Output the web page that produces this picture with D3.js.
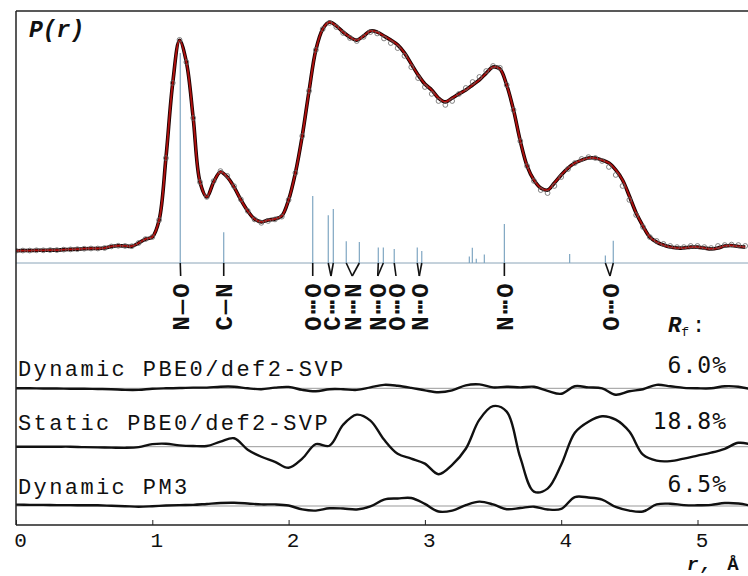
<!DOCTYPE html>
<html lang="en">
<head>
<meta charset="utf-8">
<title>P(r)</title>
<script src="https://d3js.org/d3.v7.min.js"></script>
<style>
body { margin:0; background:#fff; }
svg text { font-family: "Liberation Mono", "DejaVu Sans Mono", monospace; fill:#111; }
.frame { stroke:#222; stroke-width:1.5; fill:none; }
.zero { stroke:#999; stroke-width:1; }
.stickbase { stroke:#8aa4b8; stroke-width:1; }
.stick { stroke:#7fa6c2; stroke-width:1.2; }
.link { stroke:#111; stroke-width:1.6; fill:none; }
.resid { stroke:#111; stroke-width:2.4; fill:none; }
.pct { font-family:"DejaVu Sans Mono", monospace !important; }
</style>
</head>
<body>
<div id="chart"></div>
<script>
// sampling grid of the P(r) curve, step 0.05 A
var rGrid = d3.range(108).map(function(i){ return +(i*0.05).toFixed(2); });

// fitted P(r) (red line)
var pFit = [
0.1,0.2,0.2,0.3,0.3,0.4,0.4,0.6,0.7,0.8,
1.0,1.1,1.1,1.3,2.0,2.3,2.2,2.1,3.5,5.2,
6.1,13.5,40.6,73.4,92.0,82.5,58.1,30.1,23.6,30.1,
34.5,32.3,27.9,22.3,17.5,14.0,12.7,13.5,14.0,15.3,
22.3,34.1,50.2,69.9,87.8,96.9,100,98.3,95.6,93.4,
92.1,93.9,96.1,95.6,93.9,92.1,90.0,86.5,81.7,76.9,
72.9,70.3,66.8,65.1,66.8,68.6,70.3,72.5,74.7,77.7,
80.3,79.5,72.5,61.6,48.0,37.1,31.0,27.5,26.6,29.7,
33.2,36.2,38.4,39.7,40.6,40.6,39.7,38.4,35.4,31.0,
24.0,16.6,10.9,6.1,3.9,2.6,1.7,1.3,1.3,1.7,
1.7,1.3,0.9,1.3,2.2,2.4,2.0,1.7];

// experimental P(r) (open circles)
var pExp = [
0.1,0.2,0.2,0.3,0.3,0.4,0.4,0.6,0.7,0.8,
1.0,1.1,1.1,1.3,2.0,2.3,2.2,2.1,3.5,5.2,
6.1,13.5,40.6,73.4,92.2,82.5,58.1,30.1,23.6,30.5,
34.9,32.8,28.3,22.5,17.5,13.8,12.3,13.1,13.8,15.0,
22.3,34.1,50.2,69.9,87.8,96.9,99.6,97.8,95.2,93.0,
91.7,93.5,95.6,95.0,92.8,90.8,88.6,85.2,80.3,75.5,
71.6,68.6,65.5,63.8,65.5,68.6,71.2,73.8,76.0,78.6,
80.8,80.0,72.5,61.6,48.0,37.1,30.6,26.6,25.3,28.4,
32.3,35.8,38.4,40.2,41.0,40.6,39.3,36.7,33.2,28.4,
22.3,15.7,10.5,6.1,4.4,3.1,2.2,1.7,1.7,2.2,
2.2,1.7,1.3,2.2,2.6,2.8,2.6,2.2];

// interatomic distances (sticks) and their weights
var stickR = [1.205,1.524,2.177,2.291,2.328,2.423,2.519,2.658,2.695,2.775,2.944,2.977,3.326,3.348,3.377,3.436,3.583,4.062,4.324,4.382];
var stickW = [100,14.6,31.9,22.7,25.7,10.3,10.0,7.4,7.4,6.7,7.4,5.7,3.1,7.3,2.0,4.0,18.6,4.3,3.6,10.6];

// distance labels
var labelText = ["N\u2014O","C\u2014N","O\u22efO","C\u22efO","N\u22efN","N\u22efO","O\u22efO","N\u22efO","N\u22efO","O\u22efO"];
var labelR = [1.208,1.524,2.177,2.311,2.467,2.654,2.788,2.959,3.583,4.358];
var labelLinks = [[1.205],[1.524],[2.177],[2.291,2.328],[2.423,2.519],[2.658,2.695],[2.775],[2.944,2.977],[3.583],[4.324,4.382]];

// residual curves, step 0.1 A
var resGrid = d3.range(55).map(function(i){ return +(i*0.1).toFixed(1); });
var resDynPBE0 = [0,0,-0.1,-0.1,-0.2,-0.2,-0.3,-0.4,-0.7,-0.7,
-0.2,0,0.1,0.3,0.3,0.7,0.7,0,-0.4,0.3,
0.6,-0.7,-1.3,-0.4,-0.4,-0.7,0.4,1.5,1.1,0.2,
-0.9,-1.7,-0.9,1.3,1.7,0.4,0.7,0.4,0.7,-1.1,
-2.4,0.9,0.4,0,-2.8,-1.3,-0.4,1.5,0.9,0.2,
0,0,0.9,0.7,-0.5];
var resStatic = [0,0,0,0,0,-0.2,-0.3,-0.4,-0.5,-0.2,
1.1,1.3,0.6,0.3,0.3,2.2,3.7,-1.3,-4.4,-6.6,
-9.2,-5.2,1.1,0.4,9.6,14.0,11.4,3.1,-3.1,-5.2,
-7.4,-12.0,-7.9,-0.9,11.8,17.7,15.3,-4.8,-19.6,-18.3,
-7.9,6.1,10.9,13.3,11.8,6.6,-3.5,-6.1,-6.3,-5.2,
-3.9,-2.6,-0.9,1.7,0.9];
var resPM3 = [0.6,0.5,0.5,0.4,0.4,0.3,0.3,0.1,-0.1,-0.3,
-0.1,0.2,0.4,0.5,0.9,1.3,1.4,1.1,0.7,0.7,
0.2,-1.5,-2.0,-1.0,-1.1,-1.5,-0.2,2.8,3.3,3.5,
0.9,-2.4,-2.0,0.4,1.9,0.7,-1.4,-0.9,-0.3,-1.5,
-1.3,3.9,3.7,2.8,-0.4,-2.0,-2.4,0.7,1.0,0.4,
0.3,0.5,1.3,1.1,0];

var resNames = ["Dynamic PBE0/def2-SVP","Static PBE0/def2-SVP","Dynamic PM3"];
var resRf = ["6.0%","18.8%","6.5%"];
var xTicks = [0,1,2,3,4,5];

// ---- layout
var W = 748, H = 576;
var mLeft = 16, mTop = 11, mBottom = 525, baseY = 263;
var resBase = [388.3, 446.7, 506];
var resTextY = [376, 430, 494];
var pctY = [373, 429, 492];

var svg = d3.select("#chart").append("svg").attr("width",W).attr("height",H);

var x = d3.scaleLinear().domain([0,5]).range([mLeft,697.5]);
var yP = d3.scaleLinear().domain([0,100]).range([251,22]);
var yStick = d3.scaleLinear().domain([0,100]).range([baseY,53]);
var yRes = d3.scaleLinear().domain([-1,1]).range([2.29,-2.29]);

svg.append("defs").append("clipPath").attr("id","clip")
  .append("rect").attr("x",mLeft).attr("y",mTop).attr("width",W-mLeft).attr("height",mBottom-mTop);

var plot = svg.append("g").attr("clip-path","url(#clip)");

// sticks
plot.append("line").attr("class","stickbase").attr("x1",mLeft).attr("x2",W).attr("y1",baseY).attr("y2",baseY);
plot.selectAll(".stick").data(stickR).enter().append("line").attr("class","stick")
  .attr("x1",function(d){return x(d);}).attr("x2",function(d){return x(d);})
  .attr("y1",baseY).attr("y2",function(d,i){return yStick(stickW[i]);});

// P(r)
var pts = rGrid.map(function(r,i){ return {r:r, fit:pFit[i], exp:pExp[i]}; });
var lineFit = d3.line().x(function(d){return x(d.r);}).y(function(d){return yP(d.fit);}).curve(d3.curveCatmullRom);
plot.append("path").datum(pts).attr("d",lineFit).attr("fill","none").attr("stroke","#1a0000").attr("stroke-width",3.6);
plot.append("path").datum(pts).attr("d",lineFit).attr("fill","none").attr("stroke","#b0100e").attr("stroke-width",1.8);
plot.selectAll(".exp").data(pts).enter().append("circle").attr("class","exp")
  .attr("cx",function(d){return x(d.r);}).attr("cy",function(d){return yP(d.exp);})
  .attr("r",2.4).attr("fill","none").attr("stroke","#666").attr("stroke-width",0.8);

// residuals
var resAll = [resDynPBE0, resStatic, resPM3];
resAll.forEach(function(vals,k){
  var b = resBase[k];
  plot.append("line").attr("class","zero").attr("x1",mLeft).attr("x2",W).attr("y1",b).attr("y2",b);
  var line = d3.line().x(function(d,i){return x(resGrid[i]);}).y(function(d){return b+yRes(d);}).curve(d3.curveCatmullRom);
  plot.append("path").datum(vals).attr("class","resid").attr("d",line);
  svg.append("text").attr("x",18).attr("y",resTextY[k]).style("font-size","22px").style("letter-spacing","2.4px").text(resNames[k]);
  svg.append("text").attr("class","pct").attr("x",727).attr("y",pctY[k]).attr("text-anchor","end")
    .style("font-size","23px").style("letter-spacing","1px").text(resRf[k]);
});

// label connectors and labels
labelText.forEach(function(t,i){
  var lx = x(labelR[i]);
  labelLinks[i].forEach(function(r){
    svg.append("line").attr("class","link").attr("x1",x(r)).attr("y1",baseY).attr("x2",lx).attr("y2",276);
  });
  svg.append("text").attr("transform","translate("+lx+",306) rotate(-90)")
    .attr("text-anchor","middle").attr("dy","0.36em")
    .style("font-size","24px").style("font-weight","bold").style("letter-spacing","2px").text(t);
});

// frame
svg.append("line").attr("class","frame").attr("x1",mLeft).attr("x2",W).attr("y1",mTop).attr("y2",mTop);
svg.append("line").attr("class","frame").attr("x1",mLeft).attr("x2",mLeft).attr("y1",mTop).attr("y2",mBottom);
svg.append("line").attr("class","frame").attr("x1",mLeft).attr("x2",W).attr("y1",mBottom).attr("y2",mBottom);

var axis = svg.append("g").attr("transform","translate(0,"+mBottom+")")
  .call(d3.axisBottom(x).tickValues(xTicks).tickFormat(d3.format("d")).tickSize(-5).tickPadding(7));
axis.select(".domain").remove();
axis.selectAll(".tick line").attr("stroke","#222").attr("stroke-width",1);
axis.selectAll(".tick text").attr("dx",4).style("font-size","21px").style("font-family","Liberation Mono").attr("fill","#111");

// titles
svg.append("text").attr("x",29).attr("y",37).style("font-size","23px").style("font-weight","bold").style("font-style","italic").text("P(r)");
var rf = svg.append("text").attr("x",668).attr("y",332).style("font-size","22px");
rf.append("tspan").style("font-weight","bold").style("font-style","italic").text("R");
rf.append("tspan").attr("dy",4).style("font-size","13px").text("f");
rf.append("tspan").attr("dy",-4).attr("dx",3).text(":");

var xl = svg.append("text").attr("x",687).attr("y",570).style("font-size","19px").style("letter-spacing","2px");
xl.append("tspan").style("font-style","italic").style("font-weight","bold").text("r,");
xl.append("tspan").style("font-weight","bold").text(" \u00c5");
</script>
</body>
</html>
